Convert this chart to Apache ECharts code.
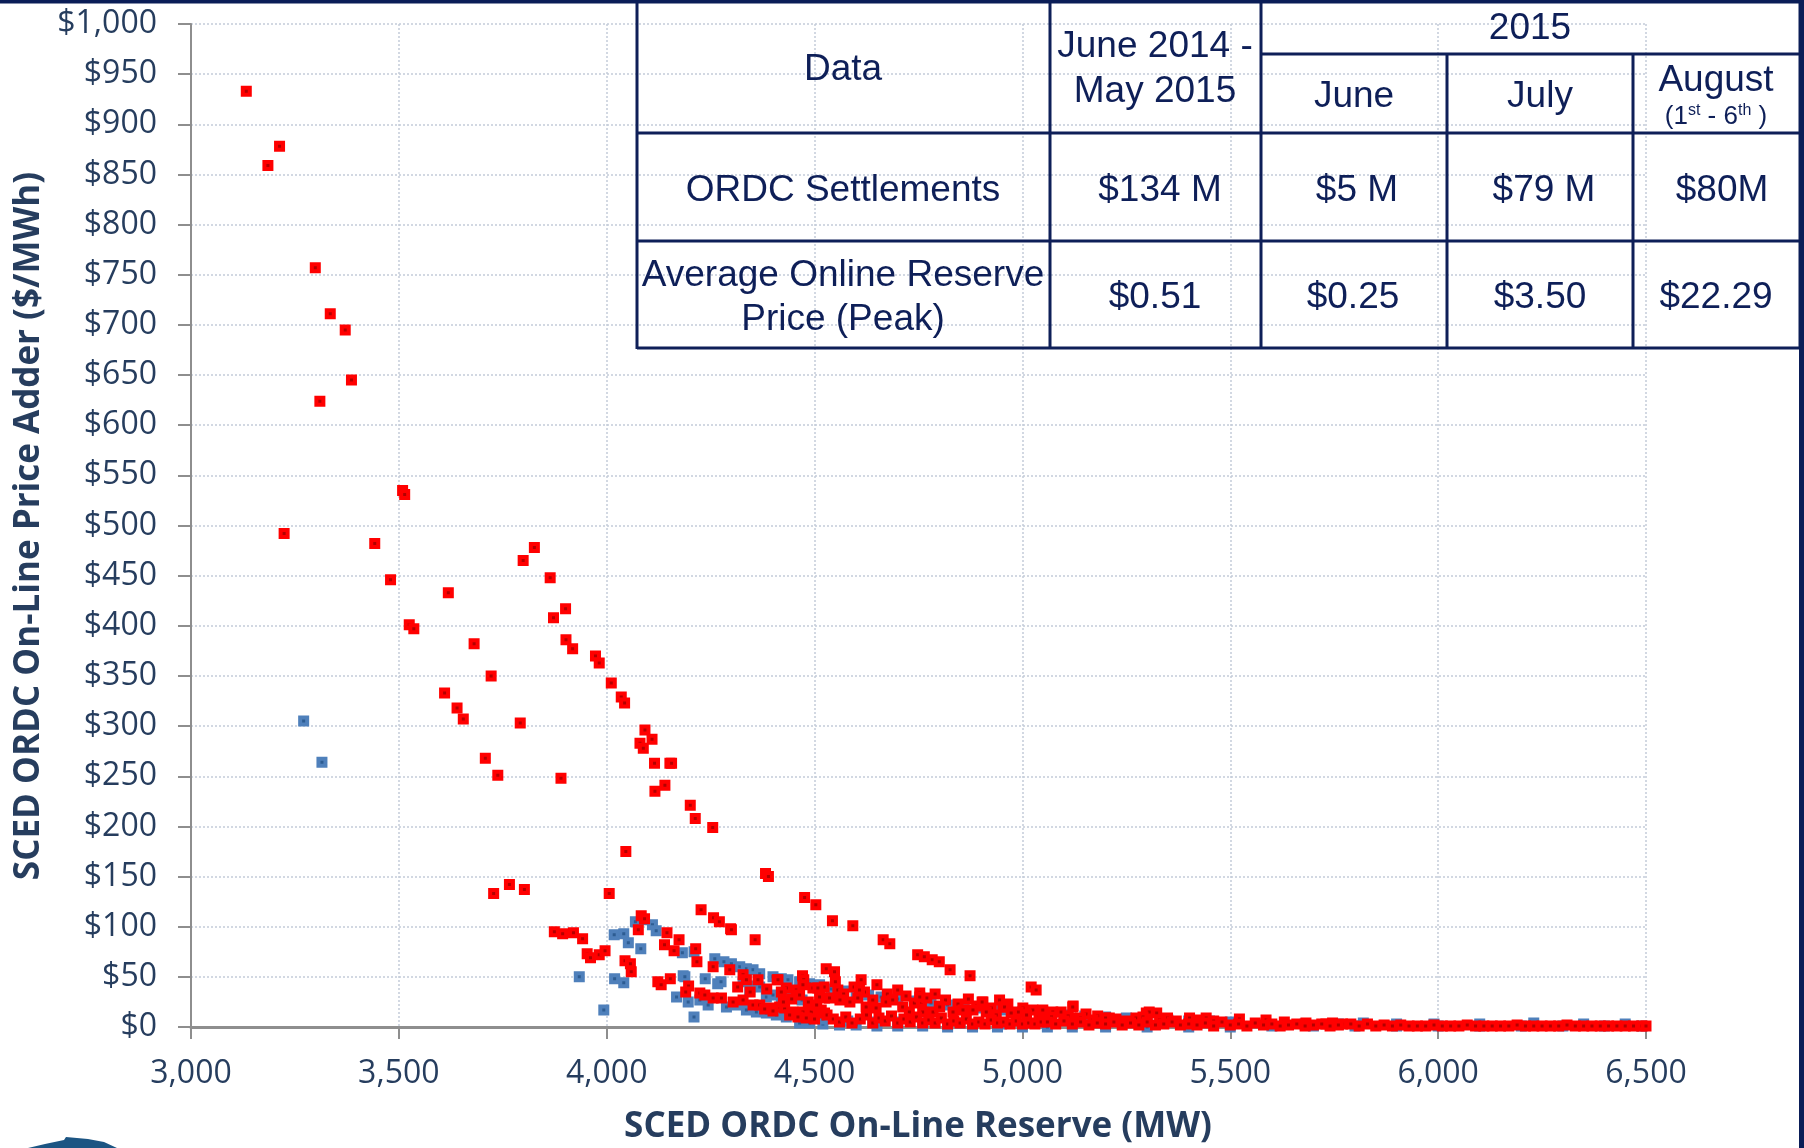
<!DOCTYPE html>
<html>
<head>
<meta charset="utf-8">
<script src="https://cdn.jsdelivr.net/npm/echarts@6/dist/echarts.min.js"></script>
<style>
html,body{margin:0;padding:0;background:#fff;}
#chart{width:1804px;height:1148px;}
</style>
</head>
<body>
<div id="chart"></div>
<script>
// ---- axis ticks ----
const xTicks = [3000, 3500, 4000, 4500, 5000, 5500, 6000, 6500];
const yTicks = [0, 50, 100, 150, 200, 250, 300, 350, 400, 450, 500, 550, 600, 650, 700, 750, 800, 850, 900, 950, 1000];

// ---- blue series (reserve MW, price adder $/MWh) ----
const blueSeries = [
[3271,305],[3315,264],[3934,50],[3993,17],
[4018,92],[4041,93],[4052,84],[4082,78],[4069,105],[4090,107],[4110,102],[4119,96],
[4019,48],[4041,44],[4184,51],[4182,74],[4210,75],[4188,50],
[4168,30],[4196,25],[4224,27],[4244,22],[4210,10],
[4237,48],[4267,43],[4275,45],
[4260,68],[4282,65],[4300,63],[4320,60],[4336,58],[4352,57],[4368,53],[4400,50],[4420,48],[4436,47],[4464,45],[4488,43],[4512,42],[4540,38],[4570,36],[4600,34],[4630,32],[4660,30],[4700,28],[4740,26],[4780,24],[4820,22],[4860,20],[4900,19],[4950,17],[5000,15],[5050,13],[5100,12],[5150,11],[5200,10],[5250,9],[5300,8],[5350,7],[5400,6],[5450,6],[5500,5],
[4328,45],[4352,41],[4344,37],[4368,40],[4384,30],[4400,32],[4420,29],[4440,30],[4470,27],
[4288,20],[4312,22],[4336,17],[4360,15],[4384,14],[4408,12],[4432,10],[4464,4],[4488,4],[4520,3],[4560,2],[4600,2],[4650,1],[4700,1],[4760,1],[4820,0],[4880,0],[4940,0],[5000,0],[5060,0],[5120,0],[5200,0],[5300,0],[5400,0],[5500,0],[5600,1],[5700,1],[5800,1],[5900,1],[6000,1],[6100,1],[6200,1],[6300,1],[6400,1],[6490,1],
[5680,3],[5760,3],[5820,4],[5900,3],[5990,3],[6100,3],[6230,4],[6350,3],[6450,3],
[4520,8],[4580,6],[4640,5],[4700,5],[4760,4],[4850,4],[4950,3]
];

// ---- red series ----
const redSeries = [
[3133,933],[3213,878],[3185,859],[3299,757],[3335,711],[3371,695],[3386,645],[3310,624],[3224,492],[3509,535],[3514,531],[3442,482],[3480,446],[3525,401],[3536,397],[3619,433],[3681,382],[3722,350],[3610,333],[3640,318],[3655,307],[3799,465],[3826,478],[3864,448],[3901,417],[3872,408],[3902,386],[3918,377],[3973,370],[3982,363],[4011,343],[4035,329],[4043,323],[3792,303],[3708,268],[3738,251],[3890,248],[4092,296],[4109,287],[4080,283],[4088,278],[4115,263],[4152,263],[4156,263],
[4116,235],[4140,241],[4201,221],[4213,208],[4255,199],[4046,175],[4382,153],[4389,150],[4006,133],[3728,133],[3766,142],[3802,137],[4476,129],[4503,122],[4543,106],[4592,101],[4665,87],[4681,83],[4748,72],[4764,70],[4783,67],[4800,65],[4826,57],[4874,51],[5021,40],[5033,37],[5122,21],
[4227,117],[4257,109],[4271,105],[4298,98],[4300,97],[4357,87],[4083,111],[4091,108],[4076,97],[4145,94],[4174,87],[4139,82],[4214,78],[4162,76],[4217,65],[4256,60],[4296,57],[4328,52],[4336,47],[4364,47],[4410,47],[4471,51],[4474,47],
[3874,95],[3894,93],[3920,94],[3942,88],[3953,73],[3961,69],[3982,72],[3996,76],[4044,66],[4057,63],[4059,55],[4123,45],[4131,42],[4153,48],[4197,41],[4190,35],[4224,34],
[4528,58],[4548,55],[4612,47],[4523,40],[4556,37],[4524,29],[4753,34],[4757,25],[4800,21],[4905,25],[4953,20],[5001,19],[5025,17],
[4236,32],[4256,29],[4276,29],[4304,25],[4328,27],[4352,22],[4368,22],[4392,19],[4416,20],[4428,19],[4448,15],[4472,15],[4492,15],[4516,17],[4524,14],[4412,47],[4432,39],[4456,37],[4472,42],[4464,32],[4496,39],[4512,30],[4508,39],
[4380,18],[4400,16],[4440,12],[4460,10],[4480,9],[4500,8],
[4315,40],[4345,35],[4385,38],[4425,25],[4420,35],[4445,28],[4485,25],[4505,22],
[4550,45],[4570,33],[4595,40],[4620,35],[4650,42],[4675,33],[4700,37],[4720,31],[4740,24],[4770,29],[4790,33],[4815,27],[4845,23],[4870,28],[4890,21],[4925,19],[4945,27],[4965,23],[4990,15],[5010,12],[5040,10],
[4536,29],[4561,27],[4585,25],[4604,29],[4608,37],[4624,20],[4640,27],[4648,19],[4672,25],[4688,27],[4712,20],[4728,15],[4753,30],[4760,15],[4785,15],[4801,20],[4833,15],[4857,17],[4881,17],[4903,25],[4913,15],[4937,12],[4957,20],[4973,14],[5049,15],
[4530,12],[4545,8],[4560,5],[4575,10],[4590,4],[4610,8],[4625,12],[4640,4],[4655,9],[4670,6],[4685,11],[4700,4],[4715,8],[4730,5],[4745,10],[4760,4],[4775,7],[4790,4],[4805,9],[4820,3],[4835,6],[4850,4],[4865,8],[4880,3],[4895,5],[4910,3],[4925,7],[4940,4],[4955,5],[4970,3],[4985,6],[5000,3],[5015,4],[5030,3],[5045,5],
[5049,17],[5073,15],[5093,15],[5117,9],[5121,20],[5153,13],[5181,11],[5209,9],[5225,8],[5273,9],[5298,14],[5305,15],[5323,14],[5349,9],[5402,9],[5422,7],[5442,9],[5522,8],[5586,7],[5630,5],[5682,4],[5730,3],[5746,4],[5770,3],
[5070,10],[5110,11],[5140,9],[5170,7],[5200,9],[5250,6],[5290,10],[5330,7],[5370,6],[5420,5],[5460,6],
[5060,5],[5080,3],[5100,6],[5120,3],[5140,5],[5160,2],[5180,4],[5200,3],[5220,5],[5240,2],[5260,4],[5280,2],[5300,5],[5320,2],[5340,3],[5360,5],[5380,2],[5400,3],[5420,2],[5440,4],[5460,1],[5480,5],[5500,2],[5520,3],[5540,1],[5560,4],[5580,2],[5600,3],[5620,1],[5640,2],[5660,3],[5680,1],[5700,2],[5720,3],[5740,1],[5760,2],
[5790,3],[5810,1],[5830,3],[5850,1],[5870,2],[5890,1],[5910,2],[5930,1],[5950,1],[5970,1],[5990,2],[6010,1],[6030,1],[6050,1],[6070,2],[6090,1],[6110,1],[6130,1],[6150,1],[6170,1],[6190,2],[6210,1],[6230,1],[6250,1],[6270,1],[6290,1],[6310,2],[6330,1],[6350,1],[6370,1],[6390,1],[6410,1],[6430,1],[6450,1],[6470,1],[6490,1],[6500,1]
];

// ---- table texts ----
const tableHeader = ['Data', 'June 2014 -', 'May 2015', '2015', 'June', 'July', 'August'];
const settlements = ['ORDC Settlements', '$134 M', '$5 M', '$79 M', '$80M'];
const reservePrice = ['Average Online Reserve', 'Price (Peak)', '$0.51', '$0.25', '$3.50', '$22.29'];

const fmt = v => String(v).replace(/\B(?=(\d{3})+(?!\d))/g, ',');
const axisColor = '#8e8e8e';
const labelColor = '#263d5e';
const navy = '#0e1f58';
const tFont = '37px "Liberation Sans", Arial, sans-serif';

function T(text, x, y, font, extra) {
  return Object.assign({
    type: 'text', z: 50,
    style: { text: text, x: x, y: y, textAlign: 'center', textVerticalAlign: 'middle', font: font || tFont, fill: navy }
  }, extra || {});
}
function L(x1, y1, x2, y2, w, c) {
  return { type: 'line', z: 49, shape: { x1: x1, y1: y1, x2: x2, y2: y2 }, style: { stroke: c || navy, lineWidth: w || 3 } };
}

const graphics = [
  { type: 'rect', z: 60, shape: { x: 0, y: 0, width: 1804, height: 3.5 }, style: { fill: '#0a1d57' } },
  { type: 'rect', z: 60, shape: { x: 1799, y: 0, width: 5, height: 1148 }, style: { fill: '#0a1d57' } },
  // table lines
  L(637, 0, 637, 349), L(1050, 0, 1050, 349), L(1261, 0, 1261, 349),
  L(1447, 54, 1447, 349), L(1633, 54, 1633, 349), L(1800, 0, 1800, 349),
  L(1261, 54, 1800, 54), L(637, 133, 1800, 133), L(637, 241, 1800, 241), L(637, 348, 1800, 348),
  // table header
  T(tableHeader[0], 843, 70),
  T(tableHeader[1], 1155, 47),
  T(tableHeader[2], 1155, 92),
  T(tableHeader[3], 1530, 29),
  T(tableHeader[4], 1354, 97),
  T(tableHeader[5], 1540, 97),
  T(tableHeader[6], 1716, 81),
  {
    type: 'text', z: 50,
    style: {
      text: '(1{s|st} - 6{s|th} )', x: 1716, y: 117, textAlign: 'center', textVerticalAlign: 'middle',
      fill: navy, fontSize: 26, fontFamily: '"Liberation Sans", Arial, sans-serif', lineHeight: 28,
      rich: { s: { fontSize: 16, fontFamily: '"Liberation Sans", Arial, sans-serif', fill: navy, verticalAlign: 'top', lineHeight: 28 } }
    }
  },
  // row 2
  T(settlements[0], 843, 191), T(settlements[1], 1160, 191), T(settlements[2], 1357, 191), T(settlements[3], 1544, 191), T(settlements[4], 1722, 191),
  // row 3
  T(reservePrice[0], 843, 276), T(reservePrice[1], 843, 320),
  T(reservePrice[2], 1155, 298), T(reservePrice[3], 1353, 298), T(reservePrice[4], 1540, 298), T(reservePrice[5], 1716, 298),
  // axis titles
  {
    type: 'text', z: 50, x: 29, y: 526, rotation: Math.PI / 2,
    style: { text: 'SCED ORDC On-Line Price Adder ($/MWh)', x: 0, y: 0, textAlign: 'center', textVerticalAlign: 'middle',
      font: 'bold 35px "Open Sans", sans-serif', fill: labelColor }
  },
  {
    type: 'text', z: 50,
    style: { text: 'SCED ORDC On-Line Reserve (MW)', x: 918, y: 1127, textAlign: 'center', textVerticalAlign: 'middle',
      font: 'bold 35px "Open Sans", sans-serif', fill: labelColor }
  },
  // partial logo at bottom-left
  { type: 'polygon', z: 50, shape: { points: [[28,1148],[45,1144],[64,1140],[66,1137],[88,1139],[104,1142],[117,1148]] }, style: { fill: '#1c5583' } }
];

const chart = echarts.init(document.getElementById('chart'), null, { renderer: 'canvas' });
chart.setOption({
  animation: false,
  backgroundColor: '#ffffff',
  grid: { left: 191, right: 158, top: 24, bottom: 121 },
  xAxis: {
    type: 'value', min: xTicks[0], max: xTicks[xTicks.length - 1], interval: 500,
    axisLine: { show: true, onZero: false, lineStyle: { color: axisColor, width: 3 } },
    axisTick: { show: true, length: 12, lineStyle: { color: axisColor, width: 2 } },
    axisLabel: { margin: 31, fontSize: 32, fontFamily: '"Open Sans", sans-serif', color: labelColor, formatter: v => fmt(v) },
    splitLine: { show: true, lineStyle: { color: '#c4ccd9', width: 1.5, type: [2, 2] } }
  },
  yAxis: {
    type: 'value', min: yTicks[0], max: yTicks[yTicks.length - 1], interval: 50,
    axisLine: { show: true, lineStyle: { color: axisColor, width: 2 } },
    axisTick: { show: true, length: 13, lineStyle: { color: axisColor, width: 2 } },
    axisLabel: { margin: 34, fontSize: 32, fontFamily: '"Open Sans", sans-serif', color: labelColor, formatter: v => '$' + fmt(v) },
    splitLine: { show: true, lineStyle: { color: '#c4ccd9', width: 1.5, type: [2, 2] } }
  },
  series: [
    { type: 'scatter', name: 'blue', data: blueSeries, symbol: 'rect', symbolSize: 7, z: 3,
      itemStyle: { color: '#2d5c92', borderColor: '#4f80bb', borderWidth: 4, opacity: 1 } },
    { type: 'scatter', name: 'red', data: redSeries, symbol: 'rect', symbolSize: 7, z: 4,
      itemStyle: { color: '#b30000', borderColor: '#ff0000', borderWidth: 4, opacity: 1 } }
  ],
  graphic: graphics
});
</script>
</body>
</html>
